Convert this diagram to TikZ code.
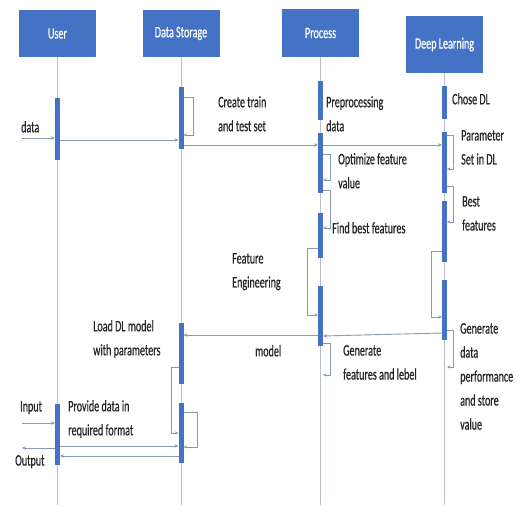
\documentclass[tikz,border=0pt]{standalone}
\usepackage{fontspec}
\setmainfont{Carlito}[FakeStretch=0.63,FakeBold=0.6]
\usetikzlibrary{arrows.meta}
\definecolor{hdr}{HTML}{4472C4}
\definecolor{lifec}{HTML}{B8C0CE}
\definecolor{msgc}{HTML}{8A98B0}
\definecolor{txtc}{HTML}{262626}
\begin{document}
\begin{tikzpicture}[x=1pt,y=-1pt,
  head/.style={fill=hdr, draw=none, text=white, font=\fontsize{16}{18}\selectfont, minimum width=77pt, inner sep=0},
  bar/.style={fill=hdr, draw=none, minimum width=5pt, inner sep=0, outer sep=0},
  life/.style={draw=lifec, line width=0.9pt},
  msg/.style={draw=msgc, line width=0.9pt, -{Stealth[length=4pt,width=3.5pt]}},
  selfmsg/.style={draw=msgc, line width=0.7pt, -{Stealth[length=3.5pt,width=3pt]}},
  lbl/.style={text=txtc, font=\fontsize{16}{24}\selectfont, inner sep=0, align=left, anchor=north west},
]
\useasboundingbox (0,0) rectangle (522,515);
\fill[white] (0,0) rectangle (522,515);

% headers
\node[head, minimum height=47pt] (user) at (57.5,33.5) {User};
\node[head, minimum height=47pt] (ds) at (181,33.5) {Data Storage};
\node[head, minimum height=48pt] (proc) at (320.5,33) {Process};
\node[head, minimum height=57pt] (dl) at (444.5,44.5) {Deep Learning};

% lifelines
\draw[life] (user.south) -- (user.south |- 0,505);
\draw[life] (ds.south) -- (ds.south |- 0,505);
\draw[life] (proc.south) -- (proc.south |- 0,505);
\draw[life] (dl.south) -- (dl.south |- 0,505);

% activation bars
\node[bar, minimum height=62pt] (u1) at (57.5,129) {};
\node[bar, minimum height=61pt] (u2) at (57.5,434.5) {};
\node[bar, minimum height=62pt] (d1) at (181,118) {};
\node[bar, minimum height=61pt] (d2) at (181,353.5) {};
\node[bar, minimum height=60pt] (d3) at (181,433) {};
\node[bar, minimum height=39pt] (p1) at (320.5,100.5) {};
\node[bar, minimum height=60pt] (p2) at (320.5,163) {};
\node[bar, minimum height=45pt] (p3) at (320.5,235.5) {};
\node[bar, minimum height=60pt] (p4) at (320.5,316) {};
\node[bar, minimum height=33pt] (l1) at (444.5,102.5) {};
\node[bar, minimum height=61pt] (l2) at (444.5,162.5) {};
\node[bar, minimum height=61pt] (l3) at (444.5,231.5) {};
\node[bar, minimum height=60pt] (l4) at (444.5,310) {};

% free ends
\coordinate (datain) at (22,138);
\coordinate (inputin) at (22,423);
\coordinate (outputout) at (22,448);

% messages
\draw[msg] (datain) -- (u1.west |- datain);
\draw[msg] (u1.east |- 0,140) -- (d1.west |- 0,140);
\draw[selfmsg] (d1.east |- 0,97) -- (193,97) -- (193,135) -- (d1.east |- 0,135);
\draw[msg] (d1.east |- 0,145) -- (p2.west |- 0,145);
\draw[msg] (p2.east |- 0,145) -- (l2.west |- 0,145);
\draw[selfmsg] (p2.east |- 0,154) -- (330,154) -- (330,180) -- (p2.east |- 0,180);
\draw[selfmsg] (p2.east |- 0,190) -- (330,190) -- (330,228) -- (p3.east |- 0,228);
\draw[selfmsg] (p3.west |- 0,248) -- (307,248) -- (307,315) -- (p4.west |- 0,315);
\draw[selfmsg] (l2.east |- 0,135) -- (453,135) -- (453,169) -- (l2.east |- 0,169);
\draw[selfmsg] (l2.east |- 0,186) -- (453,186) -- (453,222) -- (l3.east |- 0,222);
\draw[selfmsg] (l3.west |- 0,251) -- (431,251) -- (431,317) -- (l4.west |- 0,317);
\draw[msg] (l4.west |- 0,333) -- (p4.east |- 0,336);
\draw[msg] (p4.west |- 0,335) -- (d2.east |- 0,335);
\draw[selfmsg] (p4.east |- 0,343) -- (330,343) -- (330,375) -- (p4.east |- 0,375);
\draw[selfmsg] (l4.east |- 0,330) -- (453,330) -- (453,367) -- (l4.east |- 0,367);
\draw[selfmsg] (d2.west |- 0,367) -- (171,367) -- (171,433) -- (d3.west |- 0,433);
\draw[selfmsg] (d3.east |- 0,412) -- (197,412) -- (197,447) -- (d3.east |- 0,447);
\draw[msg] (inputin) -- (u2.west |- inputin);
\draw[msg] (u2.west |- outputout) -- (outputout);
\draw[msg] (u2.east |- 0,446) -- (d3.west |- 0,446);
\draw[msg] (d3.west |- 0,456) -- (u2.east |- 0,456);

% labels
\node[lbl] (tdata) at (21,121) {data};
\node[lbl] (tcreate) at (218,96) {Create train\\and test set};
\node[lbl] (tprep) at (326,96) {Preprocessing\\data};
\node[lbl] (tchose) at (452,93) {Chose DL};
\node[lbl] (tparam) at (461,130) {Parameter\\Set in DL};
\node[lbl] (topt) at (338,153) {Optimize feature\\value};
\node[lbl] (tfind) at (332,222) {Find best features};
\node[lbl] (tbest) at (462,196) {Best\\features};
\node[lbl] (tfeat) at (232,253) {Feature\\Engineering};
\node[lbl] (tgen) at (460,323) {Generate\\data\\performance\\and store\\value};
\node[lbl] (tload) at (93,320) {Load DL model\\with parameters};
\node[lbl] (tmodel) at (255,345) {model};
\node[lbl] (tgenf) at (343,345) {Generate\\features and lebel};
\node[lbl] (tinput) at (20,401) {Input};
\node[lbl] (tprov) at (68,400) {Provide data in\\required format};
\node[lbl] (toutput) at (15,455) {Output};
\end{tikzpicture}
\end{document}
